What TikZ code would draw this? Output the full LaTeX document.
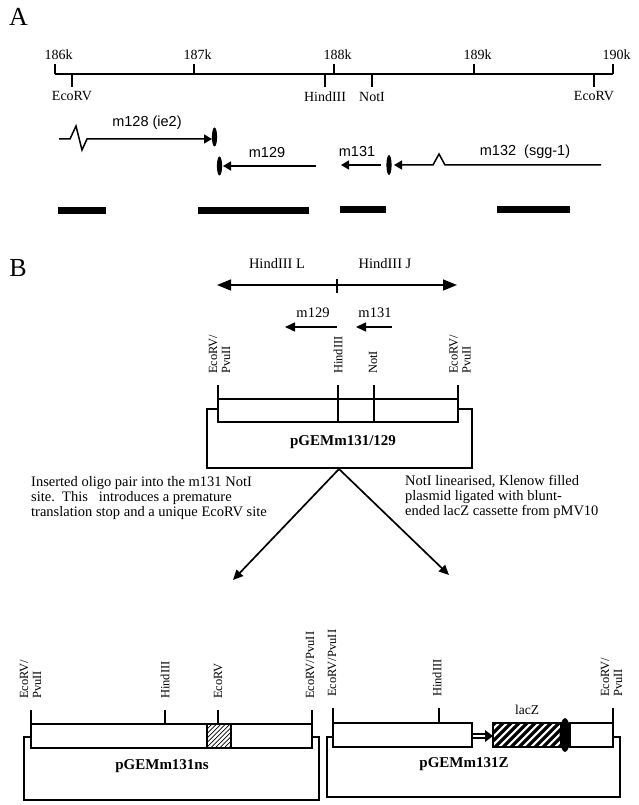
\documentclass[tikz,border=0pt]{standalone}
\usepackage{fontspec}
\setmainfont{Liberation Serif}
\newfontfamily\sansf{Liberation Sans}
\usetikzlibrary{arrows.meta}
\begin{document}
\begin{tikzpicture}[x=1pt,y=-1pt,
  ln/.style={line width=1.2pt},
  gln/.style={line width=1.5pt},
  smalltip/.style={-{Triangle[length=8pt,width=9pt]}},
  midtip/.style={-{Triangle[length=10pt,width=9pt]}},
  bigtip/.style={{Triangle[length=14pt,width=11pt]}-{Triangle[length=14pt,width=11pt]}},
  sitelbl/.style={font=\fontsize{14}{14}\selectfont, inner sep=0pt},
  blbl/.style={font=\fontsize{14.5}{15}\selectfont, inner sep=0pt},
  vlbl/.style={rotate=90, anchor=west, inner sep=0pt, font=\fontsize{12.5}{13}\selectfont, align=left},
  genelbl/.style={font=\sansf\fontsize{14.5}{16}\selectfont, inner sep=0pt},
  boldlbl/.style={font=\bfseries\fontsize{15}{16}\selectfont, inner sep=0pt},
  notelbl/.style={font=\fontsize{14.5}{15}\selectfont, inner sep=0pt, anchor=west, align=left},
  panellbl/.style={font=\fontsize{26}{26}\selectfont, inner sep=0pt}]
\useasboundingbox (0,0) rectangle (638,805);

% ---------------- Panel A ----------------
\node[panellbl] (lA) at (18.5,17) {A};
\coordinate (s0) at (55,74); \coordinate (s1) at (613,74);
\draw[ln] (s0) -- (s1);
\foreach \x/\t in {55/186k,194/187k,334/188k,474/189k,613/190k}{
  \draw[ln] (\x,74) -- (\x,64);
  \node[sitelbl] (kb\x) at (\x+3.5,55) {\t};
}
\foreach \x/\t/\n in {72/EcoRV/ea, 325/HindIII/ha, 372/NotI/na, 594/EcoRV/eb}{
  \draw[ln] (\x,74) -- (\x,87);
  \node[sitelbl] (\n) at (\x,96.5) {\t};
}
% m128
\coordinate (g128s) at (59,139); \coordinate (g128e) at (212,139);
\draw[gln,smalltip] (g128s) -- (70,139) -- (76,126) -- (82,150) -- (87,139) -- (g128e);
\fill (214.5,137) ellipse [x radius=2.6pt, y radius=9.5pt];
\node[genelbl] (t128) at (147,123) {m128 (ie2)};
% m129
\coordinate (g129s) at (316,166); \coordinate (g129e) at (223,166);
\fill (219.5,166) ellipse [x radius=2.6pt, y radius=9.5pt];
\draw[gln,smalltip] (g129s) -- (g129e);
\node[genelbl] (t129) at (267,153) {m129};
% m131
\coordinate (g131s) at (381,165); \coordinate (g131e) at (341,165);
\draw[gln,smalltip] (g131s) -- (g131e);
\node[genelbl] (t131) at (357,152) {m131};
% m132
\coordinate (g132s) at (601,165); \coordinate (g132e) at (394,165);
\fill (389,165) ellipse [x radius=2.6pt, y radius=10pt];
\draw[gln,smalltip] (g132s) -- (445,165) -- (439,154) -- (433,165) -- (g132e);
\node[genelbl] (t132) at (525,152) {m132\ \ (sgg-1)};
% probes
\fill (58,207) rectangle (106,214);
\fill (198,207) rectangle (309,214);
\fill (340,206) rectangle (386,213);
\fill (497,206) rectangle (570,213);

% ---------------- Panel B ----------------
\node[panellbl] (lB) at (18,268) {B};
\node[blbl] (hL) at (277,264) {HindIII L};
\node[blbl] (hJ) at (385,264) {HindIII J};
\coordinate (dl) at (217,285); \coordinate (dr) at (457,285);
\draw[gln,bigtip] (dl) -- (dr);
\draw[ln] (337,279) -- (337,293);
\coordinate (b129s) at (337,327); \coordinate (b129e) at (285,327);
\draw[gln,midtip] (b129s) -- (b129e);
\node[blbl] (bt129) at (313,313) {m129};
\coordinate (b131s) at (392,327); \coordinate (b131e) at (356,327);
\draw[gln,midtip] (b131s) -- (b131e);
\node[blbl] (bt131) at (375,313) {m131};
% construct pGEMm131/129
\node[vlbl] (p1) at (219.5,374) {EcoRV/\\PvuII};
\node[vlbl] (p2) at (338,374) {HindIII};
\node[vlbl] (p3) at (373,374) {NotI};
\node[vlbl] (p4) at (460,374) {EcoRV/\\PvuII};
\draw[ln] (218,385) -- (218,399);
\draw[ln] (458,385) -- (458,399);
\draw[ln] (338,385) -- (338,422);
\draw[ln] (374,385) -- (374,422);
\draw[gln] (218,399) rectangle (458,422);
\draw[gln] (218,409) -- (207,409) -- (207,468) -- (472,468) -- (472,409) -- (458,409);
\node[boldlbl] (c1) at (343,442) {pGEMm131/129};
% arrows
\coordinate (apex) at (339,469);
\coordinate (tipL) at (233,580);
\coordinate (tipR) at (449,575);
\draw[line width=1.7pt,midtip] (apex) -- (tipL);
\draw[line width=1.7pt,midtip] (apex) -- (tipR);
\node[notelbl] (noteL) at (31,498.5) {Inserted oligo pair into the m131 NotI\\site.\ \ This\ \ \ introduces a premature\\translation stop and a unique EcoRV site};
\node[notelbl] (noteR) at (405,497) {NotI linearised, Klenow filled\\plasmid ligated with blunt-\\ended lacZ cassette from pMV10};

% construct pGEMm131ns
\node[vlbl] (q1) at (30.5,699) {EcoRV/\\PvuII};
\node[vlbl] (q2) at (165,699) {HindIII};
\node[vlbl] (q3) at (218,699) {EcoRV};
\node[vlbl] (q4) at (310,699) {EcoRV/PvuII};
\draw[ln] (31,710) -- (31,724);
\draw[ln] (165,710) -- (165,724);
\draw[ln] (218,710) -- (218,724);
\draw[ln] (312,710) -- (312,724);
\begin{scope}
  \clip (207,724) rectangle (231,748);
  \foreach \k in {-28,-23.5,...,30}{
    \draw[line width=0.7pt] (207+\k,748) -- (231+\k,724);
  }
\end{scope}
\draw[gln] (31,724) rectangle (312,748);
\draw[gln] (207,724) -- (207,748);
\draw[gln] (231,724) -- (231,748);
\draw[gln] (31,737) -- (24,737) -- (24,800) -- (319,800) -- (319,737) -- (312,737);
\node[boldlbl] (c2) at (162,766) {pGEMm131ns};

% construct pGEMm131Z
\node[vlbl] (r1) at (332,697) {EcoRV/PvuII};
\node[vlbl] (r2) at (437,697) {HindIII};
\node[vlbl] (r3) at (611.5,697) {EcoRV/\\PvuII};
\draw[ln] (333,708) -- (333,723);
\draw[ln] (439,708) -- (439,723);
\draw[ln] (613,708) -- (613,723);
\draw[gln] (333,723) rectangle (472,747);
\draw[ln] (472,734) -- (486,734);
\draw[ln] (472,738) -- (486,738);
\fill (485,730) -- (493,736) -- (485,742) -- cycle;
\begin{scope}
  \clip (493,723) rectangle (561,747);
  \foreach \k in {-30,-22,...,70}{
    \draw[line width=3.2pt] (493+\k,747) -- (517+\k,723);
  }
\end{scope}
\draw[gln] (493,723) rectangle (561,747);
\draw[gln] (570,723) rectangle (613,747);
\fill (565,735) ellipse [x radius=5.5pt, y radius=17pt];
\node[font=\fontsize{13.5}{14}\selectfont, inner sep=0pt] (lz) at (527,710) {lacZ};
\draw[gln] (333,737) -- (327,737) -- (327,797) -- (620,797) -- (620,737) -- (613,737);
\node[boldlbl] (c3) at (464,764) {pGEMm131Z};
\end{tikzpicture}
\end{document}
